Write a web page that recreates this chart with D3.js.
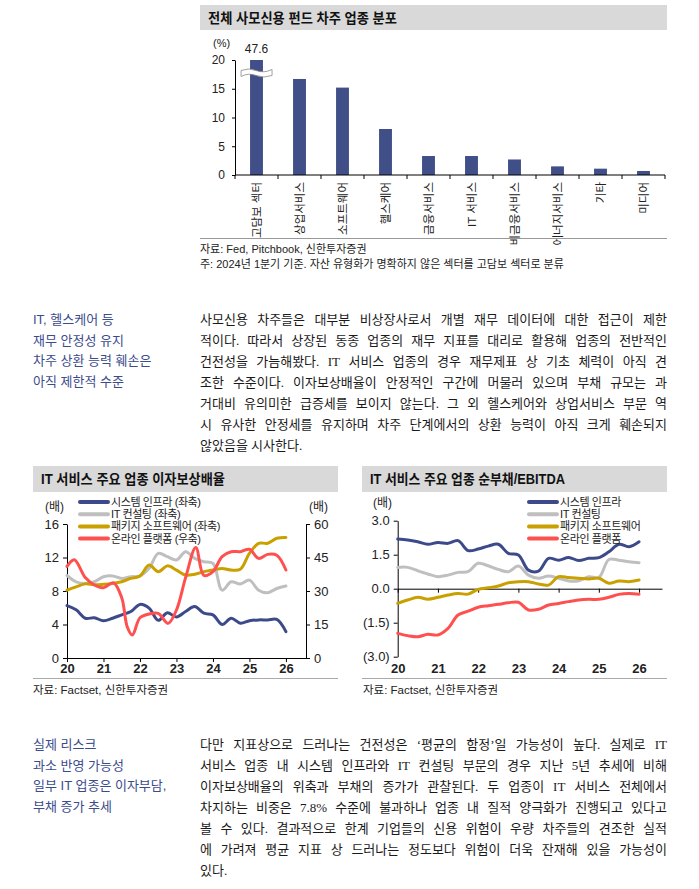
<!DOCTYPE html>
<html>
<head>
<meta charset="utf-8">
<script src="https://cdn.jsdelivr.net/npm/d3@7"></script>
<style>
  body { margin: 0; background: #fff; }
  svg { display: block; }
  text { font-family: "Liberation Sans", "Noto Sans CJK KR", sans-serif; }
  .axis path, .axis line { stroke: #000; }
  .axis text { font-size: 13px; fill: #222; }
</style>
</head>
<body>
<svg id="page" width="699" height="889"></svg>
<script>
// ---- 차주 업종 분포 (bar) ----
const sectors = ['고담보 섹터', '상업서비스', '소프트웨어', '헬스케어', '금융서비스', 'IT 서비스', '비금융서비스', '에너지서비스', '기타', '미디어']
const sectorShare = [47.6, 16.7, 15.2, 8.0, 3.3, 3.3, 2.7, 1.5, 1.1, 0.7]
const shareTicks = [0, 5, 10, 15, 20]

// ---- 이자보상배율 / 순부채 (lines), quarterly ----
const quarters = [2020, 2020.25, 2020.5, 2020.75, 2021, 2021.25, 2021.5, 2021.75, 2022, 2022.25, 2022.5, 2022.75,
  2023, 2023.25, 2023.5, 2023.75, 2024, 2024.25, 2024.5, 2024.75, 2025, 2025.25, 2025.5, 2025.75, 2026]
const yearTicks = [2020, 2021, 2022, 2023, 2024, 2025, 2026]

const infraIcr = [6.25, 5.75, 4.75, 4.8, 4.45, 4.75, 5.15, 5.55, 6.4, 5.95, 4.5, 5.4, 4.9, 5.55, 6.15, 5.35, 5.15, 4.0, 4.75, 4.15, 4.45, 4.55, 4.55, 4.6, 3.15]
const consultIcr = [9.85, 9.1, 8.9, 9.1, 9.7, 9.8, 9.5, 9.7, 9.8, 10.7, 12.5, 12.1, 11.7, 12.7, 11.9, 11.5, 11.3, 8.1, 9.1, 8.85, 9.3, 8.1, 7.8, 8.3, 8.6]
const packageIcr = [8.1, 8.5, 8.85, 8.75, 8.8, 8.9, 9.1, 9.5, 9.8, 11.1, 10.3, 11.0, 10.5, 9.9, 10.0, 10.3, 10.5, 10.7, 10.5, 10.6, 12.5, 13.7, 13.7, 14.3, 14.4]
const platformX = [2020, 2020.2, 2020.5, 2020.75, 2021, 2021.27, 2021.5, 2021.65, 2021.79, 2022, 2022.25, 2022.5, 2022.77,
  2023, 2023.25, 2023.53, 2023.75, 2024, 2024.25, 2024.5, 2024.75, 2025, 2025.25, 2025.5, 2025.75, 2026]
const platformIcr = [41, 44, 36, 32.7, 31.5, 33.7, 27, 14, 10.3, 18, 19.7, 20, 15.5, 21.5, 36, 49.5, 37, 38.7, 45.4, 47.6, 47.6, 48.7, 44.6, 46.4, 46, 39.4]
const icrLeftTicks = [0, 4, 8, 12, 16]
const icrRightTicks = [0, 15, 30, 45, 60]

const infraDebt = [2.19, 2.15, 2.07, 1.96, 2.04, 2.0, 2.12, 1.68, 1.75, 1.88, 1.96, 1.56, 1.49, 0.82, 0.78, 1.34, 1.26, 1.38, 1.24, 1.34, 1.37, 1.63, 1.96, 1.85, 2.07]
const consultDebt = [0.94, 0.94, 0.79, 0.65, 0.53, 0.6, 0.72, 0.75, 1.12, 1.01, 0.85, 0.75, 1.0, 0.6, 0.46, 0.56, 0.46, 0.34, 0.35, 0.53, 0.5, 1.29, 1.26, 1.19, 1.15]
const packageDebt = [-0.65, -0.5, -0.38, -0.46, -0.38, -0.28, -0.21, -0.24, -0.03, 0.04, 0.12, 0.26, 0.31, 0.31, 0.21, 0.16, 0.53, 0.49, 0.46, 0.43, 0.46, 0.24, 0.34, 0.31, 0.38]
const platformDebt = [-1.97, -2.07, -2.12, -2.01, -2.04, -1.75, -1.16, -0.99, -0.82, -0.75, -0.69, -0.62, -0.6, -0.94, -0.91, -0.72, -0.65, -0.57, -0.5, -0.47, -0.47, -0.38, -0.25, -0.21, -0.24]
const debtTicks = [-3, -1.5, 0, 1.5, 3]

const colors = { infra: '#3d4a8a', consult: '#bfbfbf', pkg: '#c9a000', platform: '#ff5050' }

// ---- 본문 ----
const note1 = ['IT, 헬스케어 등', '재무 안정성 유지', '차주 상환 능력 훼손은', '아직 제한적 수준']
const body1 = [
  '사모신용 차주들은 대부분 비상장사로서 개별 재무 데이터에 대한 접근이 제한',
  '적이다. 따라서 상장된 동종 업종의 재무 지표를 대리로 활용해 업종의 전반적인',
  '건전성을 가늠해봤다. IT 서비스 업종의 경우 재무제표 상 기초 체력이 아직 견',
  '조한 수준이다. 이자보상배율이 안정적인 구간에 머물러 있으며 부채 규모는 과',
  '거대비 유의미한 급증세를 보이지 않는다. 그 외 헬스케어와 상업서비스 부문 역',
  '시 유사한 안정세를 유지하며 차주 단계에서의 상환 능력이 아직 크게 훼손되지',
  '않았음을 시사한다.'
]
const note2 = ['실제 리스크', '과소 반영 가능성', '일부 IT 업종은 이자부담,', '부채 증가 추세']
const body2 = [
  '다만 지표상으로 드러나는 건전성은 ‘평균의 함정’일 가능성이 높다. 실제로 IT',
  '서비스 업종 내 시스템 인프라와 IT 컨설팅 부문의 경우 지난 5년 추세에 비해',
  '이자보상배율의 위축과 부채의 증가가 관찰된다. 두 업종이 IT 서비스 전체에서',
  '차지하는 비중은 7.8% 수준에 불과하나 업종 내 질적 양극화가 진행되고 있다고',
  '볼 수 있다. 결과적으로 한계 기업들의 신용 위험이 우량 차주들의 견조한 실적',
  '에 가려져 평균 지표 상 드러나는 정도보다 위험이 더욱 잔재해 있을 가능성이',
  '있다.'
]

const svg = d3.select('#page')
svg.append('rect').attr('width', 699).attr('height', 889).attr('fill', '#fff')

// 회색 제목 박스
function titleBar (x, y, w, h, label, width) {
  svg.append('rect').attr('x', x).attr('y', y).attr('width', w).attr('height', h).attr('fill', '#d9d9d9')
  svg.append('text').attr('x', x + 8).attr('y', y + h / 2 + 5)
    .style('font-size', '14px').style('font-weight', 'bold').style('fill', '#111')
    .attr('textLength', width).attr('lengthAdjust', 'spacingAndGlyphs')
    .text(label)
}

function smallText (x, y, str, size, anchor) {
  return svg.append('text').attr('x', x).attr('y', y)
    .style('font-size', (size || 11) + 'px').attr('text-anchor', anchor || 'start').style('fill', '#222')
    .text(str)
}

// ================= bar chart =================
titleBar(200, 5, 467, 25, '전체 사모신용 펀드 차주 업종 분포', 189)

const xBar = d3.scaleBand().domain(sectors).range([235, 665]).paddingInner(0.7).paddingOuter(0.35)
const yBar = d3.scaleLinear().domain([0, 20]).range([175, 60])
const barTop = 20

svg.append('g').selectAll('rect').data(sectors).join('rect')
  .attr('x', d => xBar(d))
  .attr('width', xBar.bandwidth())
  .attr('y', (d, i) => yBar(Math.min(sectorShare[i], barTop)))
  .attr('height', (d, i) => yBar(0) - yBar(Math.min(sectorShare[i], barTop)))
  .attr('fill', '#404f87')

// 물결 생략 표시
const bx = xBar(sectors[0])
const by = yBar(18)
svg.append('path')
  .attr('d', `M${bx - 9},${by - 1} Q${bx - 2},${by - 4} ${bx + 6},${by - 1} T${bx + 22},${by - 2} L${bx + 22},${by + 4} Q${bx + 14},${by + 7} ${bx + 6},${by + 4} T${bx - 9},${by + 5} Z`)
  .attr('fill', '#fff').attr('stroke', '#888').attr('stroke-width', 0.8)

smallText(bx + xBar.bandwidth() / 2, yBar(barTop) - 7, sectorShare[0], 12, 'middle')
smallText(213, 47, '(%)', 11)

const yBarAxis = svg.append('g').attr('class', 'axis').attr('transform', 'translate(235,0)')
  .call(d3.axisLeft(yBar).tickValues(shareTicks).tickSize(3).tickSizeOuter(0).tickPadding(7))
yBarAxis.selectAll('text').style('font-size', '12px')

// x축: 구간 경계 눈금
svg.append('line').attr('x1', 235).attr('x2', 665).attr('y1', yBar(0)).attr('y2', yBar(0)).attr('stroke', '#000')
const edges = sectors.map(d => xBar(d) - xBar.step() * xBar.paddingInner() / 2).concat([665])
svg.append('g').selectAll('line').data(edges).join('line')
  .attr('x1', d => d).attr('x2', d => d).attr('y1', yBar(0)).attr('y2', yBar(0) + 4).attr('stroke', '#000')

svg.append('g').selectAll('text').data(sectors).join('text')
  .attr('transform', d => `translate(${xBar(d) + xBar.bandwidth() / 2},${yBar(0) + 7}) rotate(-90)`)
  .attr('text-anchor', 'end').attr('dy', '0.35em')
  .style('font-size', '11.5px').style('fill', '#222')
  .text(d => d)

svg.append('line').attr('x1', 200).attr('x2', 667).attr('y1', 238.5).attr('y2', 238.5).attr('stroke', '#999')
smallText(200, 253, '자료: Fed, Pitchbook, 신한투자증권', 11)
smallText(200, 268, '주: 2024년 1분기 기준. 자산 유형화가 명확하지 않은 섹터를 고담보 섹터로 분류', 11)

// ================= 본문 =================
function paragraph (notes, lines, top) {
  notes.forEach((s, i) => {
    svg.append('text').attr('x', 33).attr('y', top + i * 20.7)
      .style('font-size', '13px').style('fill', '#3b4b8c').text(s)
  })
  lines.forEach((s, i) => {
    const y = top + i * 21
    const t = svg.append('text').attr('y', y)
      .style('font-family', '"Liberation Serif", "Noto Sans CJK KR", serif')
      .style('font-size', '13px').style('fill', '#1a1a1a')
    if (i === lines.length - 1) {
      t.attr('x', 200).text(s)
      return
    }
    const words = s.split(' ')
    const spans = words.map(w => t.append('tspan').text(w))
    const widths = spans.map(sp => sp.node().getComputedTextLength())
    const gap = (467 - d3.sum(widths)) / (words.length - 1)
    let cx = 200
    spans.forEach((sp, k) => {
      sp.attr('x', cx)
      cx += widths[k] + gap
    })
  })
}
paragraph(note1, body1, 324)
paragraph(note2, body2, 749)

// ================= line charts =================
function drawLine (x, y, xs, vals, color) {
  const line = d3.line().x((d, i) => x(xs[i])).y(d => y(d)).curve(d3.curveCatmullRom.alpha(0.5))
  svg.append('path').datum(vals).attr('d', line)
    .attr('fill', 'none').attr('stroke', color).attr('stroke-width', 3)
    .attr('stroke-linejoin', 'round').attr('stroke-linecap', 'round')
}

function legend (x, y0, items, fontSize) {
  items.forEach((it, i) => {
    const y = y0 + i * 12.2
    svg.append('line').attr('x1', x).attr('x2', x + 28).attr('y1', y).attr('y2', y)
      .attr('stroke', it[1]).attr('stroke-width', 4).attr('stroke-linecap', 'round')
    svg.append('text').attr('x', x + 31).attr('y', y + 4)
      .style('font-size', fontSize + 'px').style('letter-spacing', '-0.4px').style('fill', '#222').text(it[0])
  })
}

// ---- 이자보상배율 ----
titleBar(33, 466, 305, 26, 'IT 서비스 주요 업종 이자보상배율', 184)

const xL = d3.scaleLinear().domain([2020, 2026.55]).range([67, 306])
const yL = d3.scaleLinear().domain([0, 16]).range([658, 524])
const yR = d3.scaleLinear().domain([0, 60]).range([658, 524])

svg.append('g').attr('class', 'axis').attr('transform', 'translate(67,0)')
  .call(d3.axisLeft(yL).tickValues(icrLeftTicks).tickSize(4).tickSizeOuter(0).tickPadding(4))
svg.append('g').attr('class', 'axis').attr('transform', 'translate(306,0)')
  .call(d3.axisRight(yR).tickValues(icrRightTicks).tickSize(4).tickSizeOuter(0).tickPadding(4))
svg.append('g').attr('class', 'axis').attr('transform', 'translate(0,658)')
  .call(d3.axisBottom(xL).tickValues(yearTicks).tickFormat(d => String(d).slice(2)).tickSize(4).tickSizeOuter(0).tickPadding(2))
  .selectAll('text').style('font-weight', 'bold')

drawLine(xL, yL, quarters, consultIcr, colors.consult)
drawLine(xL, yL, quarters, packageIcr, colors.pkg)
drawLine(xL, yL, quarters, infraIcr, colors.infra)
drawLine(xL, yR, platformX, platformIcr, colors.platform)

smallText(45, 511, '(배)', 12)
smallText(309, 511, '(배)', 12)
legend(80, 502, [
  ['시스템 인프라 (좌축)', colors.infra],
  ['IT 컨설팅 (좌축)', colors.consult],
  ['패키지 소프트웨어 (좌축)', colors.pkg],
  ['온라인 플랫폼 (우축)', colors.platform]
], 11)

svg.append('line').attr('x1', 33).attr('x2', 338).attr('y1', 678.5).attr('y2', 678.5).attr('stroke', '#aaa')
smallText(33, 694, '자료: Factset, 신한투자증권', 11.5)

// ---- 순부채/EBITDA ----
titleBar(362, 466, 305, 26, 'IT 서비스 주요 업종 순부채/EBITDA', 195)

const xD = d3.scaleLinear().domain([2020, 2026.57]).range([397.7, 662])
const yD = d3.scaleLinear().domain([-3, 3]).range([656.7, 520.7])

svg.append('g').attr('class', 'axis').attr('transform', 'translate(397.7,0)')
  .call(d3.axisLeft(yD).tickValues(debtTicks).tickSize(4).tickSizeOuter(0).tickPadding(4)
    .tickFormat(d => d < 0 ? `(${(-d).toFixed(1)})` : d.toFixed(1)))
svg.append('g').attr('class', 'axis').attr('transform', `translate(0,${yD(0)})`)
  .call(d3.axisBottom(xD).tickValues(yearTicks).tickFormat('').tickSize(4).tickSizeOuter(0))
const yearLabels = svg.append('g').attr('class', 'axis').attr('transform', `translate(0,${yD(-3)})`)
  .call(d3.axisBottom(xD).tickValues(yearTicks).tickFormat(d => String(d).slice(2)).tickSize(0).tickPadding(7))
yearLabels.select('.domain').remove()
yearLabels.selectAll('text').style('font-weight', 'bold')

drawLine(xD, yD, quarters, consultDebt, colors.consult)
drawLine(xD, yD, quarters, packageDebt, colors.pkg)
drawLine(xD, yD, quarters, infraDebt, colors.infra)
drawLine(xD, yD, quarters, platformDebt, colors.platform)

smallText(373, 507, '(배)', 12)
legend(529, 502, [
  ['시스템 인프라', colors.infra],
  ['IT 컨설팅', colors.consult],
  ['패키지 소프트웨어', colors.pkg],
  ['온라인 플랫폼', colors.platform]
], 11)

svg.append('line').attr('x1', 362).attr('x2', 667).attr('y1', 678.5).attr('y2', 678.5).attr('stroke', '#aaa')
smallText(363, 694, '자료: Factset, 신한투자증권', 11.5)
</script>
</body>
</html>
